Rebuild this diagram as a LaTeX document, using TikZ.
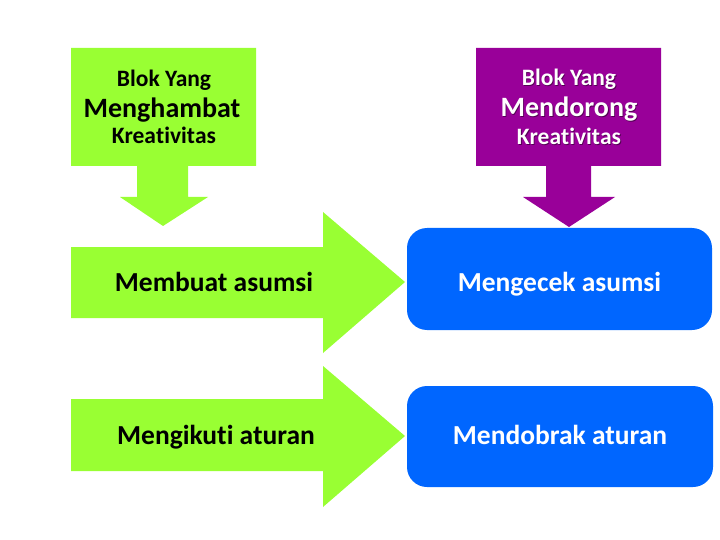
\documentclass[tikz,border=0pt]{standalone}
\usepackage{fontspec}
\setmainfont{Carlito}[Ligatures={NoCommon,NoRequired,NoContextual}]
\definecolor{lime}{RGB}{153,255,51}
\definecolor{purp}{RGB}{153,0,153}
\definecolor{bblue}{RGB}{0,102,255}
\tikzset{
  big/.style={font=\fontsize{27.5}{33}\selectfont\bfseries, anchor=base, inner sep=0pt},
  hdr/.style={font=\fontsize{23.5}{28}\selectfont\bfseries, anchor=base, inner sep=0pt},
  hdrbig/.style={font=\fontsize{28}{33}\selectfont\bfseries, anchor=base, inner sep=0pt},
  wtxt/.style={text=white},
  shadowtxt/.style={text=black, opacity=0.45},
}
\begin{document}
\begin{tikzpicture}[x=1pt,y=-1pt]
\useasboundingbox (0,0) rectangle (720,540);
% left callout (green)
\fill[lime] (71,48) -- (256,48) -- (256,166) -- (188,166) -- (188,197) -- (208,197)
  -- (163,226) -- (120,197) -- (137,197) -- (137,166) -- (71,166) -- cycle;
% right callout (purple)
\fill[purp] (476,48) -- (661,48) -- (661,166) -- (591,166) -- (591,197) -- (615,197)
  -- (569,227) -- (523,197) -- (546,197) -- (546,166) -- (476,166) -- cycle;
% green right arrows
\fill[lime] (71,247) -- (323,247) -- (323,212) -- (405,282) -- (323,353) -- (323,318) -- (71,318) -- cycle;
\fill[lime] (71,399) -- (323,399) -- (323,366) -- (405,436) -- (323,507) -- (323,471) -- (71,471) -- cycle;
% blue boxes
\fill[bblue, rounded corners=20pt] (407,228) rectangle (712,330);
\fill[bblue, rounded corners=20pt] (407,386) rectangle (713,487);
% header texts
\node[hdr] (g1) at (164,87) {Blok Yang};
\node[hdrbig] (g2) at (162,118) {Menghambat};
\node[hdr] (g3) at (164,144) {Krea\kern0ptt\kern0ptivi\kern0ptt\kern0ptas};
\node[hdr, shadowtxt] at (569.8,86.8) {Blok Yang};
\node[hdrbig, shadowtxt] at (569.8,117.8) {Mendorong};
\node[hdr, shadowtxt] at (569.8,145.8) {Krea\kern0ptt\kern0ptivi\kern0ptt\kern0ptas};
\node[hdr, wtxt] (p1) at (569,86) {Blok Yang};
\node[hdrbig, wtxt] (p2) at (569,117) {Mendorong};
\node[hdr, wtxt] (p3) at (569,145) {Krea\kern0ptt\kern0ptivi\kern0ptt\kern0ptas};
% row texts
\node[big] (a1) at (214,291) {Membuat asumsi};
\node[big] (a2) at (216,444) {Mengiku\kern0ptt\kern0pti aturan};
\node[big, wtxt] (b1) at (559.5,291) {Mengecek asumsi};
\node[big, wtxt] (b2) at (560,444) {Mendobrak aturan};
\end{tikzpicture}
\end{document}
